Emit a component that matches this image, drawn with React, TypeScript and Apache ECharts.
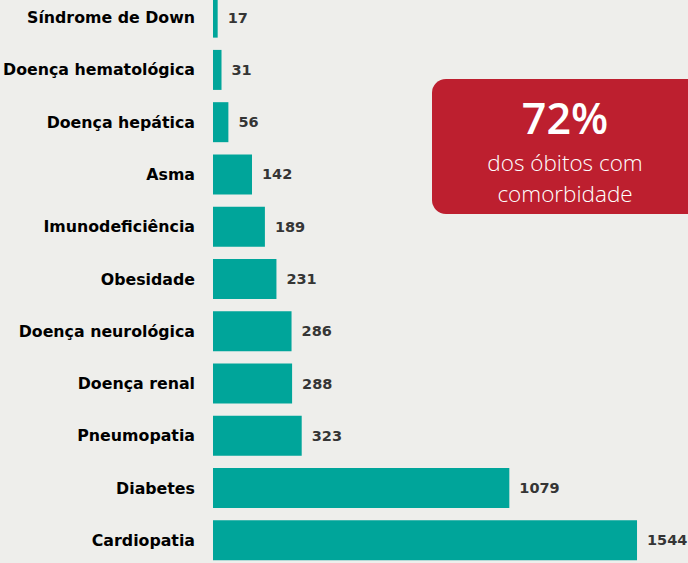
import React, { useEffect, useRef } from "react";
import * as echarts from "echarts";

const categories = [
  "Síndrome de Down",
  "Doença hematológica",
  "Doença hepática",
  "Asma",
  "Imunodeficiência",
  "Obesidade",
  "Doença neurológica",
  "Doença renal",
  "Pneumopatia",
  "Diabetes",
  "Cardiopatia",
];
const values = [17, 31, 56, 142, 189, 231, 286, 288, 323, 1079, 1544];
const boxTitle = "72%";
const boxLines = ["dos óbitos com", "comorbidade"];

export default function App() {
  const ref = useRef<HTMLDivElement>(null);
  useEffect(() => {
    document.body.style.margin = "0";
    const chart = echarts.init(ref.current!, null, { renderer: "svg" });
    chart.setOption({
      animation: false,
      backgroundColor: "#eeeeeb",
      grid: {
        left: 213,
        top: -8.5,
        right: 35.6,
        bottom: -3.5,
        containLabel: false,
        outerBoundsMode: "none",
      },
      xAxis: {
        type: "value",
        min: 0,
        max: 1600,
        show: false,
        splitLine: { show: false },
      },
      yAxis: {
        type: "category",
        data: categories,
        inverse: true,
        axisLine: { show: false },
        axisTick: { show: false },
        axisLabel: {
          margin: 18,
          color: "#000000",
          fontFamily: "DejaVu Sans",
          fontWeight: "bold",
          fontSize: 15.8,
        },
      },
      series: [
        {
          type: "bar",
          data: values,
          barWidth: 40,
          itemStyle: { color: "#00a59a" },
          label: {
            show: true,
            position: "right",
            distance: 10,
            color: "#353535",
            fontFamily: "DejaVu Sans",
            fontWeight: "bold",
            fontSize: 14.5,
            formatter: "{c}",
          },
        },
      ],
      graphic: [
        {
          type: "rect",
          shape: { x: 432, y: 79, width: 275, height: 135, r: 14 },
          style: { fill: "#bd1f2f" },
          z: 10,
        },
        {
          type: "text",
          x: 565,
          y: 117,
          z: 11,
          style: {
            text: boxTitle,
            fill: "#ffffff",
            font: "600 43px 'Open Sans'",
            textAlign: "center",
            textVerticalAlign: "middle",
          },
        },
        {
          type: "text",
          x: 565,
          y: 162,
          z: 11,
          style: {
            text: boxLines[0],
            fill: "#ffffff",
            font: "300 22.5px 'Open Sans'",
            textAlign: "center",
            textVerticalAlign: "middle",
          },
        },
        {
          type: "text",
          x: 565,
          y: 193,
          z: 11,
          style: {
            text: boxLines[1],
            fill: "#ffffff",
            font: "300 22.5px 'Open Sans'",
            textAlign: "center",
            textVerticalAlign: "middle",
          },
        },
      ],
    });
    return () => chart.dispose();
  }, []);
  return (
    <div
      ref={ref}
      style={{ position: "absolute", left: 0, top: 0, width: 688, height: 563 }}
    />
  );
}
